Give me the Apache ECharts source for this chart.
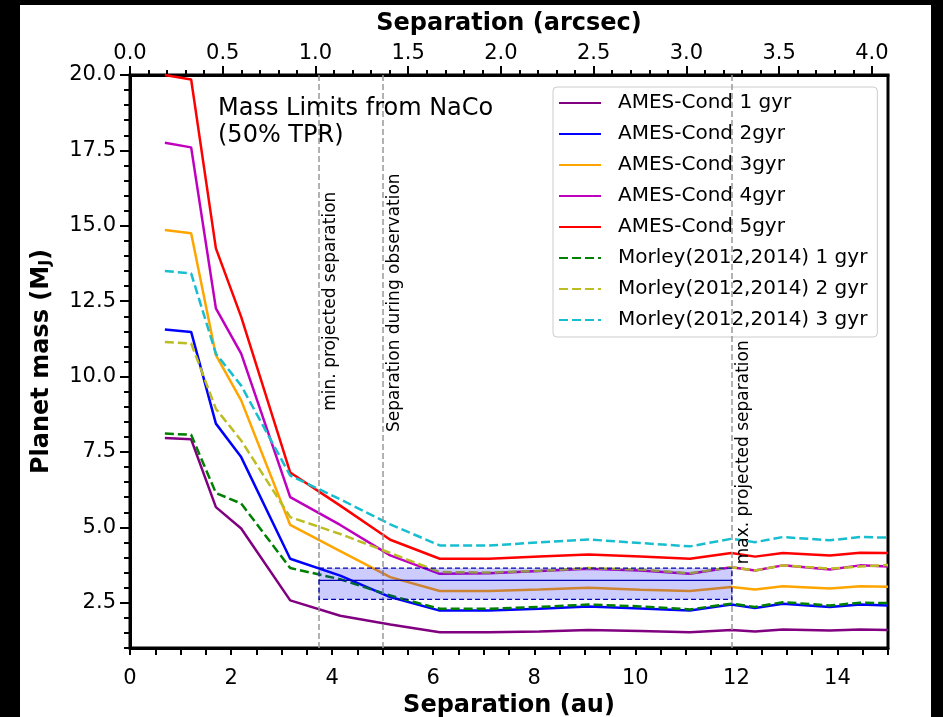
<!DOCTYPE html>
<html>
<head>
<meta charset="utf-8">
<script src="https://cdn.jsdelivr.net/npm/echarts@6/dist/echarts.min.js"></script>
<style>
  html, body { margin: 0; padding: 0; background: #000; }
  #chart { position: absolute; left: 20px; top: 5px; width: 911px; height: 712px; }
</style>
</head>
<body>
<div id="chart"></div>
<script>
// Separation grid (au) shared by every detection-limit curve
const sepAu = [0.69, 1.21, 1.70, 2.20, 3.17, 4.16, 5.15, 6.13, 7.10, 8.10, 9.07, 10.10, 11.08, 11.90, 12.37, 12.92, 13.85, 14.45, 15.00];

// Mass limits (M_J) per evolutionary model and age
const amesCond1 = [7.96, 7.92, 5.67, 4.96, 2.58, 2.07, 1.78, 1.52, 1.52, 1.55, 1.60, 1.56, 1.52, 1.60, 1.55, 1.61, 1.58, 1.61, 1.60];
const amesCond2 = [11.56, 11.48, 8.44, 7.33, 3.96, 3.40, 2.69, 2.24, 2.24, 2.30, 2.38, 2.31, 2.24, 2.44, 2.33, 2.47, 2.36, 2.44, 2.41];
const amesCond3 = [14.86, 14.75, 10.71, 9.21, 5.08, 4.21, 3.35, 2.89, 2.89, 2.94, 3.00, 2.93, 2.89, 3.02, 2.94, 3.05, 2.97, 3.05, 3.03];
const amesCond4 = [17.75, 17.60, 12.26, 10.76, 6.00, 5.08, 4.07, 3.46, 3.48, 3.55, 3.63, 3.57, 3.46, 3.68, 3.57, 3.74, 3.60, 3.74, 3.70];
const amesCond5 = [20.00, 19.85, 14.25, 11.98, 6.82, 5.72, 4.59, 3.96, 3.96, 4.03, 4.10, 4.03, 3.96, 4.15, 4.03, 4.15, 4.07, 4.16, 4.15];
const morley1 = [8.11, 8.07, 6.14, 5.79, 3.65, 3.28, 2.74, 2.30, 2.30, 2.36, 2.44, 2.38, 2.28, 2.47, 2.36, 2.52, 2.41, 2.50, 2.49];
const morley2 = [11.15, 11.10, 8.93, 7.88, 5.34, 4.78, 4.15, 3.52, 3.50, 3.56, 3.65, 3.60, 3.48, 3.68, 3.57, 3.74, 3.63, 3.70, 3.75];
const morley3 = [13.50, 13.42, 10.76, 9.70, 6.72, 5.93, 5.10, 4.40, 4.40, 4.50, 4.60, 4.48, 4.37, 4.62, 4.51, 4.68, 4.57, 4.68, 4.66];

const seriesNames = [
  'AMES-Cond 1 gyr', 'AMES-Cond 2gyr', 'AMES-Cond 3gyr', 'AMES-Cond 4gyr', 'AMES-Cond 5gyr',
  'Morley(2012,2014) 1 gyr', 'Morley(2012,2014) 2 gyr', 'Morley(2012,2014) 3 gyr'
];
const seriesValues = [amesCond1, amesCond2, amesCond3, amesCond4, amesCond5, morley1, morley2, morley3];
const seriesColors = ['#800080', '#0000ff', '#ffa500', '#bf00bf', '#ff0000', '#008000', '#bcbd22', '#17becf'];
const seriesDashed = [false, false, false, false, false, true, true, true];

// Orbit geometry markers (au) and their captions
const markerSep = [3.74, 5.01, 11.91];
const markerText = ['min. projected separation', 'Separation during observation', 'max. projected separation'];
const markerTextMass = [12.5, 12.45, 7.49];

// Expected companion mass band: separation range and mass low / central / high
const bandSep = [3.74, 11.91];
const bandMass = [2.61, 3.24, 3.65];

// Axis conversions and tick labels
const auPerArcsec = 3.67;
const auTicks = [0, 2, 4, 6, 8, 10, 12, 14];
const arcsecTicks = [0.0, 0.5, 1.0, 1.5, 2.0, 2.5, 3.0, 3.5, 4.0];
const massTicks = [2.5, 5.0, 7.5, 10.0, 12.5, 15.0, 17.5, 20.0];
const auMinorStep = 0.5, arcsecMinorStep = 0.1, massMinorStep = 0.5;

function steps(from, to, step) {
  const out = [];
  const n = Math.round((to - from) / step);
  for (let i = 0; i <= n; i++) out.push(+(from + i * step).toFixed(4));
  return out;
}

const FONT = 'DejaVu Sans';
const chart = echarts.init(document.getElementById('chart'), null, { renderer: 'canvas' });

const lineSeries = seriesNames.map((name, k) => ({
  name: name,
  type: 'line',
  data: sepAu.map((x, i) => [x, seriesValues[k][i]]),
  symbol: 'none',
  showSymbol: false,
  color: seriesColors[k],
  lineStyle: { width: 2.5, color: seriesColors[k], type: seriesDashed[k] ? [9, 4] : 'solid' },
  z: 2,
  animation: false
}));

const option = {
  backgroundColor: '#ffffff',
  animation: false,
  textStyle: { fontFamily: FONT },
  grid: {
    left: 110, right: 43, top: 70, bottom: 69,
    containLabel: false, outerBoundsMode: 'none',
    show: true, borderColor: '#000', borderWidth: 3, backgroundColor: 'transparent'
  },
  title: {
    text: 'Mass Limits from NaCo\n(50% TPR)',
    left: 193, top: 85,
    textStyle: { fontFamily: FONT, fontSize: 24, fontWeight: 'normal', color: '#000', lineHeight: 27 }
  },
  legend: {
    orient: 'vertical',
    left: 533, top: 82,
    data: seriesNames,
    itemWidth: 42, itemHeight: 14, itemGap: 7,
    padding: [4, 10, 5, 5],
    backgroundColor: 'rgba(255,255,255,0.8)',
    borderColor: '#cccccc', borderWidth: 1, borderRadius: 4,
    itemStyle: { opacity: 0 },
    textStyle: { fontFamily: FONT, fontSize: 20, color: '#000', lineHeight: 24, padding: [0, 0, 0, 12] }
  },
  xAxis: [
    {
      type: 'value', position: 'bottom', min: 0, max: 15,
      name: 'Separation (au)', nameLocation: 'middle', nameGap: 44,
      nameTextStyle: { fontFamily: FONT, fontSize: 24, fontWeight: 'bold', color: '#000' },
      axisLine: { show: true, lineStyle: { color: '#000', width: 3 } },
      axisTick: { show: true, customValues: steps(0, 15, auMinorStep), length: 7, lineStyle: { color: '#000', width: 2 } },
      axisLabel: { customValues: auTicks, fontFamily: FONT, fontSize: 21, color: '#000', margin: 20, formatter: v => String(v) },
      splitLine: { show: false }
    },
    {
      type: 'value', position: 'top', min: 0, max: 15 / auPerArcsec,
      name: 'Separation (arcsec)', nameLocation: 'middle', nameGap: 39,
      nameTextStyle: { fontFamily: FONT, fontSize: 24, fontWeight: 'bold', color: '#000' },
      axisLine: { show: true, lineStyle: { color: '#000', width: 3 } },
      axisTick: { show: true, customValues: steps(0, 4.0, arcsecMinorStep), length: 5, lineStyle: { color: '#000', width: 2 } },
      axisLabel: { customValues: arcsecTicks, fontFamily: FONT, fontSize: 21, color: '#000', margin: 11, formatter: v => v.toFixed(1) },
      splitLine: { show: false }
    },
    {
      type: 'value', position: 'top', min: 0, max: 15 / auPerArcsec,
      axisLine: { show: false },
      axisTick: { show: true, customValues: arcsecTicks, length: 9, lineStyle: { color: '#000', width: 2 } },
      axisLabel: { show: false },
      splitLine: { show: false }
    }
  ],
  yAxis: [
    {
      type: 'value', position: 'left', min: 1, max: 20,
      name: 'Planet mass (M{s|J})', nameLocation: 'middle', nameGap: 76,
      nameTextStyle: {
        fontFamily: FONT, fontSize: 24, fontWeight: 'bold', color: '#000',
        rich: { s: { fontFamily: FONT, fontSize: 16, fontWeight: 'bold', color: '#000', verticalAlign: 'bottom', padding: [9, 0, 0, 0] } }
      },
      axisLine: { show: true, lineStyle: { color: '#000', width: 3 } },
      axisTick: { show: true, customValues: steps(1, 20, massMinorStep), length: 6, lineStyle: { color: '#000', width: 2 } },
      axisLabel: { customValues: massTicks, fontFamily: FONT, fontSize: 21, color: '#000', margin: 14, formatter: v => v.toFixed(1) },
      splitLine: { show: false }
    },
    {
      type: 'value', position: 'left', min: 1, max: 20,
      axisLine: { show: false },
      axisTick: { show: true, customValues: massTicks, length: 10, lineStyle: { color: '#000', width: 2 } },
      axisLabel: { show: false },
      splitLine: { show: false }
    }
  ],
  series: [
    // vertical guides for the orbit geometry
    {
      type: 'line', data: [], z: 1, silent: true,
      markLine: {
        silent: true, symbol: 'none', animation: false,
        label: { show: false },
        lineStyle: { color: '#999999', type: [6, 3], width: 1.5 },
        data: markerSep.map(x => ({ xAxis: x }))
      }
    },
    ...lineSeries,
    // shaded expected-mass band with central value
    {
      type: 'custom', z: 5, silent: true,
      data: [[bandSep[0], bandSep[1], bandMass[0], bandMass[1], bandMass[2]]],
      renderItem: function (params, api) {
        const lo = api.coord([api.value(0), api.value(2)]);
        const hi = api.coord([api.value(1), api.value(4)]);
        const midL = api.coord([api.value(0), api.value(3)]);
        const midR = api.coord([api.value(1), api.value(3)]);
        return {
          type: 'group',
          children: [
            { type: 'rect', shape: { x: lo[0], y: hi[1], width: hi[0] - lo[0], height: lo[1] - hi[1] },
              style: { fill: 'rgba(0,0,255,0.2)', stroke: '#0000b0', lineWidth: 1.2, lineDash: [5, 3] } },
            { type: 'line', shape: { x1: midL[0], y1: midL[1], x2: midR[0], y2: midR[1] },
              style: { stroke: '#0000b0', lineWidth: 1.2 } }
          ]
        };
      }
    },
    // captions running up the vertical guides
    {
      type: 'custom', z: 6, silent: true,
      data: markerSep.map((x, i) => [x, markerTextMass[i]]),
      renderItem: function (params, api) {
        const p = api.coord([api.value(0), api.value(1)]);
        return {
          type: 'text', x: p[0] + 3, y: p[1], rotation: Math.PI / 2,
          style: { text: markerText[params.dataIndex], fontFamily: FONT, fontSize: 17, fill: '#000', align: 'center', verticalAlign: 'top' }
        };
      }
    }
  ]
};

chart.setOption(option);
</script>
</body>
</html>
